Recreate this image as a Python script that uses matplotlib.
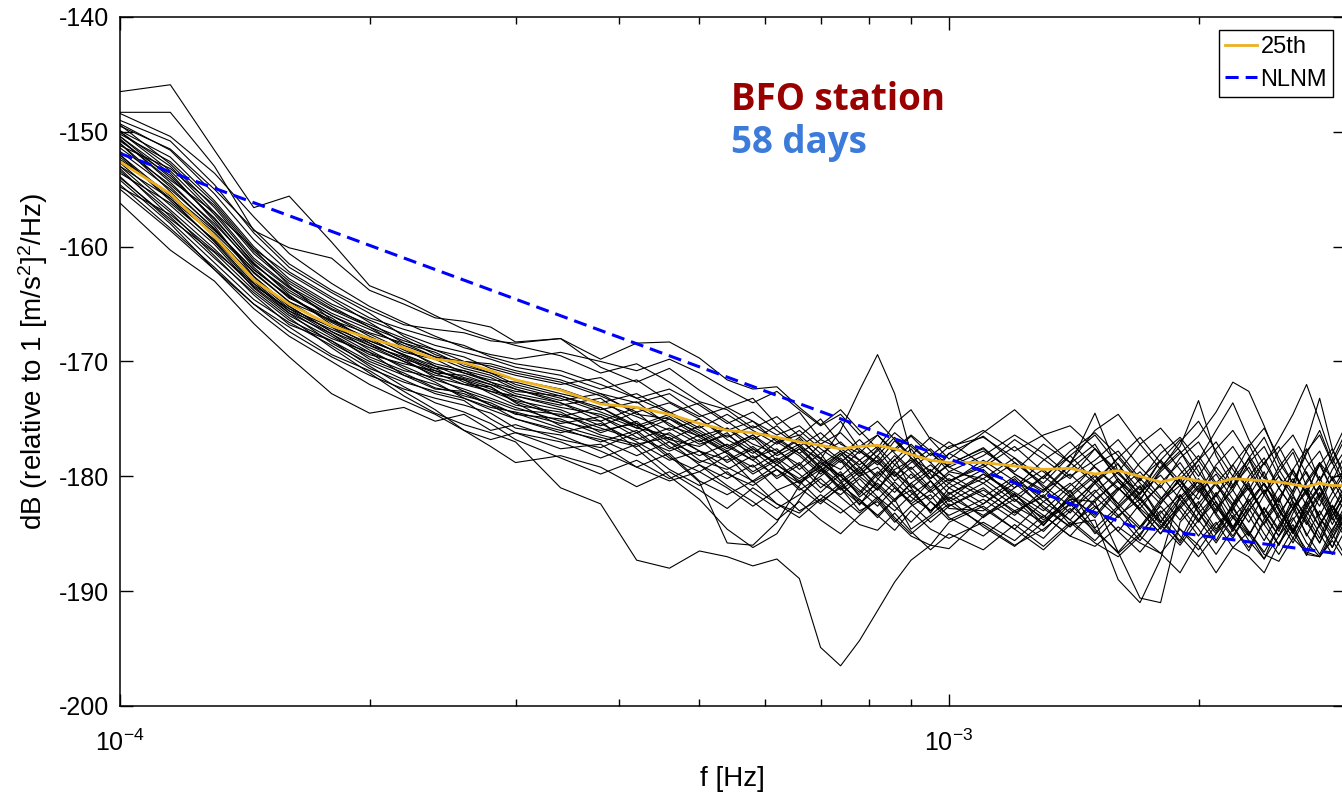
import numpy as np
import matplotlib
matplotlib.use("Agg")
import matplotlib.pyplot as plt

plt.rcParams['font.family'] = ['Liberation Sans', 'DejaVu Sans']
plt.rcParams['mathtext.fontset'] = 'custom'
plt.rcParams['mathtext.rm'] = 'Liberation Sans'
plt.rcParams['mathtext.default'] = 'regular'
plt.rcParams['axes.unicode_minus'] = False

# frequency grid (units of 1e-4 Hz) shared by all daily spectra
freq_e4 = [1.0, 1.15, 1.3, 1.45, 1.6, 1.8, 2.0, 2.2, 2.4, 2.6, 2.8, 3.0,
           3.4, 3.8, 4.2, 4.6, 5.0, 5.4, 5.8, 6.2, 6.6, 7.0, 7.4, 7.8, 8.2, 8.6, 9.0, 9.5, 10,
           11, 12, 13, 14, 15, 16, 17, 18, 19, 20, 21, 22, 23, 24, 25, 26, 27, 28, 29, 30]

# daily PSDs in dB
day01 = [-146.5, -145.9, -151.6, -156.6, -155.6, -159.6, -163.4, -164.6, -166.0, -167.2, -168.0, -168.6,
         -169.5, -171.0, -170.2, -171.8, -173.5, -174.2, -175.8, -174.8, -176.5, -175.0, -177.2, -178.0, -176.4, -177.8, -176.5, -178.2, -177.0,
         -179.0, -176.8, -178.5, -180.2, -177.6, -179.8, -181.5, -178.6, -180.4, -182.0, -179.2, -181.0, -178.4, -180.8, -182.3, -179.5, -181.6, -178.8, -180.2, -179.6]
day02 = [-148.3, -148.3, -153.0, -158.6, -160.1, -161.0, -163.8, -165.0, -166.2, -166.5, -167.0, -168.3,
         -168.0, -170.5, -171.8, -170.6, -172.5, -174.0, -173.2, -175.5, -174.4, -176.8, -175.2, -177.6, -178.8, -176.9, -178.4, -180.2, -179.0,
         -177.5, -179.8, -181.2, -178.9, -177.2, -180.5, -182.1, -179.4, -177.8, -180.6, -183.0, -180.2, -178.5, -181.4, -179.6, -177.9, -180.9, -182.6, -180.0, -181.8]
day03 = [-156.2, -160.3, -163.0, -166.7, -169.6, -172.8, -174.5, -174.0, -175.2, -174.6, -176.0, -175.5,
         -176.8, -177.5, -176.2, -178.4, -179.6, -178.2, -180.5, -179.4, -181.2, -180.0, -178.6, -180.8, -182.0, -180.5, -181.8, -183.0, -181.4,
         -183.6, -181.5, -184.2, -182.0, -185.0, -182.8, -180.9, -183.5, -185.8, -183.2, -181.6, -184.4, -186.5, -183.7, -181.9, -184.8, -186.9, -184.1, -182.5, -184.0]
day04 = [-154.0, -157.6, -160.5, -163.8, -166.2, -168.8, -171.0, -173.0, -174.5, -175.5, -176.2, -177.0,
         -181.0, -182.4, -187.3, -188.0, -186.5, -187.0, -187.8, -187.2, -188.9, -194.9, -196.5, -194.3, -191.7, -189.2, -187.3, -186.0, -186.3,
         -183.5, -182.0, -183.6, -181.2, -184.5, -182.6, -180.8, -183.9, -185.6, -182.4, -180.5, -183.2, -185.1, -182.7, -184.6, -181.8, -183.5, -185.4, -182.6, -184.2]
day05 = [-151.0, -154.8, -158.5, -162.0, -164.3, -166.5, -168.0, -169.5, -170.8, -171.5, -172.2, -173.5,
         -174.8, -175.2, -177.6, -180.0, -182.0, -184.6, -186.2, -185.0, -182.0, -179.5, -178.0, -179.6, -181.2, -179.0, -177.6, -179.8, -181.5,
         -180.2, -178.4, -181.0, -183.2, -180.6, -178.9, -181.8, -184.0, -181.2, -179.0, -182.3, -184.6, -181.7, -179.6, -182.8, -185.0, -182.1, -180.0, -183.0, -180.8]
day06 = [-153.0, -156.8, -160.2, -163.5, -165.8, -167.6, -169.8, -171.0, -172.3, -172.8, -173.8, -174.5,
         -175.8, -177.0, -176.0, -178.2, -180.5, -185.8, -186.0, -184.0, -180.8, -178.6, -180.4, -182.5, -180.3, -178.5, -181.0, -183.2, -181.0,
         -179.4, -182.0, -184.3, -181.6, -179.8, -182.7, -185.2, -182.4, -180.1, -183.1, -185.6, -182.9, -180.6, -183.6, -186.0, -183.2, -181.0, -184.0, -186.2, -183.4]
day07 = [-150.0, -153.0, -157.0, -161.0, -163.5, -165.5, -167.0, -168.2, -169.0, -169.6, -170.6, -171.2,
         -172.0, -171.4, -173.2, -174.5, -173.6, -175.2, -176.8, -175.6, -177.4, -178.5, -176.0, -172.5, -169.4, -172.8, -178.0, -180.2, -178.0,
         -176.5, -178.8, -180.6, -178.2, -176.4, -179.0, -181.2, -178.6, -176.8, -179.6, -181.8, -179.0, -177.2, -180.0, -182.2, -179.4, -177.6, -180.4, -178.6, -176.4]
day08 = [-149.5, -151.5, -155.0, -158.5, -161.5, -163.8, -165.5, -166.8, -167.2, -167.5, -168.2, -168.4,
         -168.0, -169.8, -168.4, -168.3, -169.7, -171.6, -172.4, -172.2, -174.0, -175.5, -174.2, -176.0, -177.6, -175.4, -174.2, -176.8, -178.5,
         -176.2, -174.2, -176.6, -178.8, -176.0, -174.6, -177.2, -179.4, -177.0, -175.2, -177.8, -180.0, -177.4, -175.8, -178.4, -180.6, -177.8, -176.4, -178.9, -176.8]
day09 = [-150.4, -154.0, -157.5, -161.5, -164.0, -166.0, -167.5, -168.4, -169.2, -170.4, -171.0, -172.0,
         -173.0, -174.2, -173.5, -175.6, -176.5, -175.8, -177.2, -178.0, -176.6, -178.5, -179.4, -177.8, -178.8, -180.0, -178.4, -179.5, -180.6,
         -178.6, -180.4, -181.8, -179.4, -177.6, -180.2, -182.0, -179.6, -178.0, -176.5, -174.4, -171.8, -172.6, -175.6, -178.8, -180.6, -178.0, -176.0, -178.8, -181.0]
day10 = [-151.7, -155.0, -158.4, -162.3, -164.8, -166.4, -167.6, -169.0, -170.2, -170.8, -171.4, -172.4,
         -173.4, -172.8, -174.6, -175.0, -176.2, -177.6, -176.4, -177.8, -179.0, -177.2, -178.6, -180.0, -178.2, -176.6, -178.4, -180.2, -178.9,
         -177.6, -179.8, -181.4, -179.0, -174.5, -179.6, -181.6, -179.2, -177.4, -173.4, -178.2, -180.8, -178.4, -176.6, -179.4, -181.4, -177.0, -173.2, -177.6, -180.2]
day11 = [-152.0, -156.0, -159.5, -163.2, -165.6, -167.2, -168.6, -169.6, -171.0, -171.2, -172.0, -173.0,
         -174.0, -174.6, -175.8, -176.4, -177.8, -178.6, -177.4, -179.0, -180.2, -178.8, -180.0, -181.4, -179.6, -181.0, -182.2, -180.4, -182.6,
         -181.0, -183.2, -181.6, -184.2, -183.8, -189.0, -191.0, -187.2, -181.6, -183.8, -181.4, -183.6, -185.2, -182.8, -184.8, -182.2, -184.0, -185.8, -183.0, -184.6]
day12 = [-153.4, -157.0, -160.8, -164.2, -166.8, -168.2, -170.0, -171.2, -172.0, -173.0, -173.6, -174.6,
         -175.0, -176.4, -177.2, -176.6, -178.6, -179.4, -178.2, -180.2, -179.0, -181.0, -179.6, -181.8, -180.6, -182.0, -181.2, -183.0, -181.8,
         -183.4, -181.6, -183.8, -182.0, -182.2, -186.6, -190.6, -191.0, -184.0, -182.2, -184.6, -182.6, -185.0, -187.2, -184.2, -182.4, -185.2, -183.0, -184.8, -182.6]
day13 = [-154.6, -158.4, -161.8, -165.0, -167.4, -169.6, -171.2, -172.4, -173.2, -173.8, -174.5, -175.8,
         -176.4, -177.8, -179.2, -178.0, -180.4, -181.6, -180.4, -182.4, -183.2, -181.6, -182.8, -184.2, -184.7, -183.2, -184.8, -186.4, -185.0,
         -186.4, -184.2, -186.1, -184.0, -185.8, -187.0, -185.2, -186.7, -188.4, -185.6, -184.0, -186.2, -187.0, -188.4, -185.8, -184.2, -186.8, -187.0, -185.0, -186.8]
day14 = [-149.9, -152.2, -156.0, -160.0, -162.8, -165.0, -166.4, -167.6, -168.6, -169.2, -169.8, -170.5,
         -171.2, -172.4, -171.6, -173.5, -174.8, -174.0, -175.2, -176.4, -175.6, -177.2, -176.2, -177.8, -179.0, -177.6, -176.4, -177.8, -179.6,
         -178.2, -176.4, -178.0, -180.0, -178.6, -176.8, -179.2, -181.0, -178.4, -177.0, -179.6, -181.2, -178.8, -177.4, -180.0, -181.6, -179.2, -177.8, -180.4, -178.2]
day15 = [-150.4, -153.6, -157.8, -161.8, -164.5, -166.2, -168.4, -169.8, -170.6, -171.8, -172.6, -173.4,
         -174.2, -175.6, -174.4, -176.8, -177.4, -176.2, -178.4, -177.6, -179.4, -178.0, -180.4, -179.2, -181.0, -179.6, -180.8, -182.0, -180.6,
         -182.4, -180.2, -182.8, -184.4, -182.0, -180.4, -183.0, -185.0, -182.6, -180.8, -183.4, -185.4, -183.0, -181.2, -183.8, -185.8, -183.4, -181.6, -184.2, -182.0]
day16 = [-151.4, -154.6, -158.0, -161.6, -163.8, -166.0, -167.8, -169.2, -169.8, -171.0, -171.8, -172.8,
         -173.6, -174.8, -176.2, -175.0, -176.6, -178.0, -179.2, -178.0, -176.8, -178.4, -180.0, -181.6, -179.8, -178.2, -179.6, -181.2, -179.8,
         -181.6, -183.4, -181.2, -179.8, -181.8, -183.6, -181.4, -179.9, -182.0, -184.0, -181.6, -180.0, -182.4, -184.2, -181.8, -180.2, -182.6, -184.4, -182.0, -180.4]
day17 = [-152.7, -156.4, -159.8, -163.6, -166.0, -168.0, -169.2, -170.4, -171.6, -172.4, -173.2, -174.0,
         -175.2, -176.0, -175.4, -177.0, -178.2, -177.2, -178.6, -180.0, -178.8, -180.6, -181.6, -180.2, -181.8, -183.0, -181.6, -180.4, -182.2,
         -180.6, -182.6, -184.0, -181.8, -180.0, -182.4, -184.4, -182.0, -180.4, -182.8, -184.8, -182.4, -180.8, -183.2, -185.2, -182.8, -181.2, -183.6, -185.4, -183.0]
day18 = [-153.0, -155.8, -159.0, -162.6, -165.2, -167.4, -168.8, -170.0, -171.0, -172.0, -172.6, -173.0,
         -173.8, -173.2, -175.4, -176.8, -175.6, -177.4, -178.6, -177.0, -178.2, -179.8, -178.4, -180.0, -181.2, -179.4, -178.6, -180.4, -182.0,
         -179.8, -181.4, -183.0, -180.8, -179.2, -181.0, -182.8, -180.6, -178.8, -181.2, -183.2, -180.8, -179.2, -181.6, -183.6, -181.2, -179.6, -182.0, -183.8, -181.4]
day19 = [-151.0, -155.2, -159.2, -163.0, -165.6, -167.8, -169.6, -170.8, -171.4, -172.6, -173.4, -174.2,
         -174.6, -175.8, -176.8, -175.8, -177.2, -176.4, -177.8, -179.4, -180.6, -179.0, -177.8, -179.2, -180.8, -182.2, -180.6, -179.4, -181.0,
         -182.8, -184.6, -182.2, -180.6, -182.6, -184.8, -182.4, -180.8, -183.0, -185.2, -182.8, -181.2, -183.4, -185.6, -183.2, -181.6, -183.8, -185.8, -183.4, -181.8]
day20 = [-149.4, -152.8, -156.6, -160.6, -163.2, -165.4, -166.8, -168.0, -169.4, -170.2, -171.0, -171.6,
         -172.4, -173.6, -172.8, -174.4, -175.8, -174.6, -176.0, -177.2, -176.0, -177.6, -178.8, -177.4, -176.4, -178.0, -179.4, -178.0, -179.2,
         -177.8, -179.6, -177.2, -178.8, -180.6, -178.4, -176.6, -178.8, -180.8, -178.6, -177.0, -179.4, -181.2, -178.8, -177.4, -179.8, -181.4, -179.0, -177.6, -179.8]
day21 = [-155.0, -158.6, -162.0, -165.4, -167.8, -170.0, -172.0, -173.4, -174.6, -176.0, -177.4, -178.8,
         -178.2, -179.2, -180.9, -179.6, -181.2, -182.8, -181.0, -182.4, -183.6, -182.0, -183.2, -182.0, -183.4, -184.7, -183.0, -184.6, -185.4,
         -184.0, -185.6, -183.4, -185.2, -186.1, -184.4, -185.8, -186.7, -184.6, -186.0, -188.4, -186.2, -184.8, -186.8, -187.4, -185.4, -186.6, -187.0, -185.6, -187.2]
day22 = [-150.7, -154.2, -157.0, -160.2, -162.4, -164.6, -166.6, -168.4, -169.6, -170.0, -170.4, -171.0,
         -171.8, -173.0, -174.4, -173.6, -175.0, -176.6, -175.6, -176.8, -178.0, -176.8, -177.6, -178.6, -177.4, -179.0, -180.2, -179.0, -180.4,
         -179.2, -177.4, -179.6, -181.4, -179.0, -177.8, -180.2, -182.0, -179.8, -178.2, -180.6, -182.4, -180.0, -178.4, -181.0, -182.8, -180.4, -178.8, -181.2, -179.4]
day23 = [-152.4, -155.4, -158.6, -162.0, -164.4, -166.6, -168.2, -169.4, -170.6, -170.8, -171.8, -172.4,
         -173.6, -175.2, -174.0, -175.4, -177.0, -175.8, -177.6, -178.8, -177.6, -179.2, -180.6, -179.4, -177.6, -179.6, -181.0, -179.6, -178.0,
         -179.6, -181.8, -180.0, -178.2, -180.4, -182.4, -180.2, -178.6, -180.8, -182.8, -180.6, -179.0, -181.2, -183.2, -181.0, -179.4, -181.6, -183.4, -181.4, -179.8]
day24 = [-153.9, -157.8, -161.4, -164.6, -166.6, -168.6, -170.6, -171.8, -172.6, -173.2, -174.0, -174.4,
         -175.4, -174.8, -176.6, -177.8, -176.8, -178.8, -177.6, -179.0, -180.4, -179.2, -181.0, -182.4, -181.0, -182.6, -184.0, -182.2, -183.4,
         -182.0, -183.8, -185.4, -183.0, -181.2, -183.4, -185.6, -183.2, -181.6, -183.8, -185.8, -183.6, -182.0, -184.2, -186.0, -183.8, -182.2, -184.4, -186.2, -184.0]
day25 = [-148.4, -150.4, -153.6, -157.4, -160.6, -163.2, -165.2, -166.6, -167.8, -168.8, -169.4, -169.8,
         -169.2, -170.0, -170.8, -169.8, -171.0, -172.4, -173.6, -172.6, -174.2, -175.6, -174.6, -176.4, -175.2, -176.8, -178.2, -176.6, -177.6,
         -176.0, -177.8, -176.4, -175.6, -177.6, -179.6, -177.2, -175.8, -177.8, -180.0, -177.6, -176.0, -178.2, -180.2, -177.8, -176.4, -178.6, -180.4, -178.0, -175.8]
day26 = [-149.3, -151.6, -155.4, -159.4, -162.2, -164.4, -166.2, -167.2, -168.0, -168.6, -169.6, -170.2,
         -170.8, -172.0, -173.2, -172.4, -173.8, -175.4, -174.4, -176.0, -177.4, -176.2, -177.8, -179.0, -177.8, -176.2, -177.4, -178.8, -177.4,
         -176.6, -178.4, -180.2, -177.8, -176.2, -178.2, -180.4, -178.0, -176.6, -178.6, -176.0, -173.6, -176.8, -179.0, -176.8, -174.6, -172.0, -175.2, -178.4, -180.6]
day27 = [-154.2, -158.0, -162.0, -165.0, -167.0, -169.4, -170.8, -172.6, -174.2, -176.0, -176.8, -176.2,
         -177.6, -177.2, -179.2, -180.4, -179.6, -181.0, -182.6, -181.2, -183.0, -182.0, -180.6, -182.2, -183.4, -182.0, -184.6, -183.4, -182.0,
         -184.4, -186.1, -184.0, -182.4, -184.6, -186.7, -185.0, -183.0, -185.2, -187.0, -185.0, -183.4, -185.6, -187.2, -185.2, -183.6, -185.8, -187.0, -185.4, -183.6]
day28 = [-150.0, -153.4, -157.2, -161.2, -163.6, -165.8, -167.2, -168.6, -169.6, -170.6, -171.2, -172.2,
         -173.2, -174.4, -175.6, -174.6, -176.0, -177.4, -176.4, -178.2, -177.2, -178.8, -180.0, -178.6, -180.2, -181.4, -179.8, -181.4, -180.2,
         -181.8, -180.0, -182.2, -183.8, -181.4, -179.6, -182.0, -184.0, -181.8, -180.2, -182.6, -184.4, -182.2, -180.6, -183.0, -184.8, -182.6, -181.0, -183.4, -181.6]
day29 = [-150.8, -153.8, -157.6, -161.4, -164.2, -166.8, -168.6, -170.0, -171.2, -171.6, -172.8, -173.8,
         -174.4, -176.2, -175.2, -177.4, -178.8, -177.8, -179.6, -178.4, -179.8, -181.4, -179.8, -181.2, -182.6, -181.0, -182.4, -184.0, -182.6,
         -181.2, -183.0, -184.8, -182.4, -180.6, -182.8, -184.6, -182.2, -180.8, -183.2, -185.0, -182.6, -181.0, -183.4, -185.2, -182.8, -181.4, -183.6, -185.0, -183.2]
day30 = [-152.2, -155.8, -159.6, -163.4, -165.4, -167.6, -169.4, -170.2, -170.8, -171.6, -172.4, -173.2,
         -174.8, -174.0, -175.6, -177.6, -176.4, -178.0, -179.8, -178.6, -180.6, -179.4, -181.2, -180.0, -179.2, -180.8, -182.4, -181.2, -182.8,
         -183.0, -181.0, -179.4, -181.6, -183.6, -181.2, -179.6, -181.8, -183.8, -181.4, -179.8, -182.0, -184.0, -181.6, -180.0, -182.2, -184.2, -181.8, -180.2, -182.4]
day31 = [-153.6, -156.2, -159.4, -162.8, -165.4, -167.0, -169.0, -170.6, -171.8, -173.2, -174.2, -175.0,
         -176.0, -176.8, -178.2, -177.0, -179.0, -180.2, -179.0, -181.2, -180.4, -182.2, -181.0, -183.0, -182.2, -184.0, -182.6, -181.6, -183.6,
         -185.2, -183.0, -181.8, -183.8, -185.6, -183.4, -182.0, -184.2, -186.0, -183.8, -182.2, -184.4, -186.2, -184.0, -182.4, -184.6, -186.4, -184.2, -182.6, -184.6]
day32 = [-151.2, -153.2, -156.4, -160.4, -163.0, -165.2, -167.0, -168.8, -170.4, -171.4, -172.0, -172.6,
         -173.0, -174.0, -175.8, -174.8, -176.4, -177.8, -176.6, -178.6, -177.4, -179.2, -178.0, -179.8, -178.6, -180.4, -179.2, -181.0, -179.6,
         -180.2, -182.2, -180.0, -181.8, -183.4, -181.0, -182.8, -184.4, -182.0, -180.4, -182.6, -184.6, -182.2, -180.6, -182.8, -184.8, -182.4, -180.8, -183.0, -181.2]
day33 = [-154.8, -157.2, -160.4, -163.2, -165.8, -168.4, -170.2, -171.6, -172.8, -173.4, -175.0, -176.2,
         -177.0, -178.4, -177.2, -179.4, -180.8, -179.6, -181.4, -182.8, -181.6, -180.2, -181.8, -183.2, -181.8, -183.6, -185.0, -183.6, -182.4,
         -184.2, -186.0, -184.6, -182.8, -184.8, -186.6, -184.4, -182.6, -184.6, -186.4, -184.2, -182.8, -184.8, -186.6, -184.4, -182.8, -185.0, -186.8, -184.6, -183.0]
day34 = [-150.2, -152.6, -156.2, -160.2, -163.4, -166.4, -168.2, -169.4, -170.4, -171.0, -171.6, -171.8,
         -172.8, -173.6, -174.8, -176.0, -175.0, -176.8, -178.0, -176.6, -178.0, -179.6, -178.2, -176.8, -178.4, -180.0, -178.8, -177.6, -179.2,
         -180.6, -178.8, -180.8, -182.6, -180.4, -178.4, -180.6, -182.4, -180.2, -178.6, -180.8, -182.6, -180.4, -178.8, -181.0, -182.8, -180.6, -179.0, -181.2, -183.0]
day35 = [-152.0, -155.6, -158.8, -162.2, -164.8, -167.0, -168.4, -169.8, -171.4, -172.0, -172.2, -173.6,
         -175.6, -176.6, -177.4, -176.2, -177.8, -179.2, -180.4, -179.0, -177.6, -179.4, -181.0, -179.6, -178.2, -179.8, -181.4, -183.0, -181.6,
         -179.8, -181.6, -183.4, -185.2, -182.8, -181.0, -183.0, -185.0, -182.8, -181.0, -183.2, -185.2, -183.0, -181.2, -183.4, -185.4, -183.2, -181.4, -183.6, -185.2]
day36 = [-150.6, -154.4, -158.2, -162.6, -165.2, -167.4, -169.2, -171.2, -172.4, -172.6, -173.8, -175.0,
         -176.2, -175.4, -177.0, -178.6, -177.8, -179.8, -180.8, -179.4, -181.0, -182.4, -180.8, -182.0, -183.6, -182.0, -180.6, -182.2, -183.8,
         -182.4, -180.6, -182.6, -184.4, -182.2, -180.2, -182.4, -184.6, -182.4, -180.4, -182.6, -184.8, -182.6, -180.6, -182.8, -185.0, -182.8, -180.8, -183.0, -185.0]
day37 = [-149.0, -150.8, -154.6, -158.8, -161.8, -164.0, -165.8, -167.8, -169.0, -170.0, -170.2, -170.8,
         -171.6, -172.8, -173.6, -172.8, -174.6, -176.0, -175.2, -177.0, -176.4, -178.0, -177.0, -178.6, -180.0, -178.6, -177.2, -178.8, -180.4,
         -179.0, -181.0, -178.6, -177.0, -179.2, -181.2, -178.8, -177.2, -179.4, -181.4, -179.0, -177.4, -179.6, -181.6, -179.2, -177.6, -179.8, -181.8, -179.4, -177.8]
day38 = [-153.2, -157.4, -161.0, -164.0, -166.4, -168.2, -170.4, -172.2, -173.6, -174.4, -175.4, -176.8,
         -178.4, -179.8, -178.6, -180.2, -179.0, -180.8, -182.2, -183.8, -182.2, -183.8, -185.0, -183.4, -182.0, -183.8, -185.2, -186.0, -184.0,
         -182.6, -184.6, -186.4, -184.2, -182.6, -184.8, -186.6, -184.4, -182.6, -184.6, -186.8, -184.6, -182.8, -185.0, -186.8, -184.6, -183.0, -185.0, -186.8, -184.8]

days = [day01, day02, day03, day04, day05, day06, day07, day08, day09, day10,
        day11, day12, day13, day14, day15, day16, day17, day18, day19, day20,
        day21, day22, day23, day24, day25, day26, day27, day28, day29, day30,
        day31, day32, day33, day34, day35, day36, day37, day38]

# 25th percentile curve
p25 = [-152.6, -155.4, -159.1, -162.9, -165.0, -166.9, -168.0, -168.8, -169.8, -170.1, -170.8, -171.6,
       -172.5, -173.7, -174.0, -174.6, -175.4, -176.0, -176.2, -176.6, -177.0, -177.3, -177.6, -177.4, -177.3, -177.6, -178.1, -178.6, -178.8,
       -178.8, -179.1, -179.4, -179.3, -179.8, -179.5, -180.0, -180.5, -180.1, -180.4, -180.6, -180.2, -180.3, -180.4, -180.5, -180.7, -180.9, -180.6, -180.8, -180.8]

# Peterson NLNM corner points in this band
nlnm_f = [1.0e-4, 1.0 / 600, 3.0e-3]
nlnm_db = [-151.88, -184.37, -186.81]

f = np.array(freq_e4) * 1e-4

fig = plt.figure(figsize=(13.42, 7.96), dpi=100)
ax = fig.add_axes([120 / 1342, 90 / 796, 1224.5 / 1342, 689 / 796])

for d in days:
    ax.plot(f, d, color='k', linewidth=0.8)
l1, = ax.plot(f, p25, color='#EDB120', linewidth=2.0, label='25th')
l2, = ax.plot(nlnm_f, nlnm_db, color='b', linestyle='--', linewidth=2.2,
              dashes=(4.3, 2.3), label='NLNM')

ax.set_xscale('log')
ax.set_xlim(1e-4, 3e-3)
ax.set_ylim(-200, -140)
ax.set_yticks(np.arange(-200, -139, 10))
ax.tick_params(which='both', direction='in', top=True, right=True, labelsize=18, width=1.0)
ax.tick_params(which='major', length=9, pad=8)
ax.tick_params(axis='x', which='major', pad=17)
ax.tick_params(which='minor', length=5)
for s in ax.spines.values():
    s.set_linewidth(1.1)

ax.set_xlabel('f [Hz]', fontsize=20, labelpad=7)
ax.set_ylabel(r'dB (relative to 1 [m/s$^2$]$^2$/Hz)', fontsize=20, labelpad=6)

leg = ax.legend(handles=[l1, l2], loc='upper right', bbox_to_anchor=(0.9906, 0.981),
                fontsize=17, fancybox=False, edgecolor='k', framealpha=1,
                borderaxespad=0, borderpad=0.25, handlelength=1.35, handletextpad=0.15,
                labelspacing=0.45)
leg.get_frame().set_linewidth(1.0)

ax.text(0.499, 0.865, 'BFO station', transform=ax.transAxes, color='#990000',
        fontsize=26.5, fontweight='bold', family='Open Sans', ha='left', va='baseline')
ax.text(0.499, 0.802, '58 days', transform=ax.transAxes, color='#3C7BD9',
        fontsize=26.5, fontweight='bold', family='Open Sans', ha='left', va='baseline')

fig.savefig('out.png', dpi=100)
